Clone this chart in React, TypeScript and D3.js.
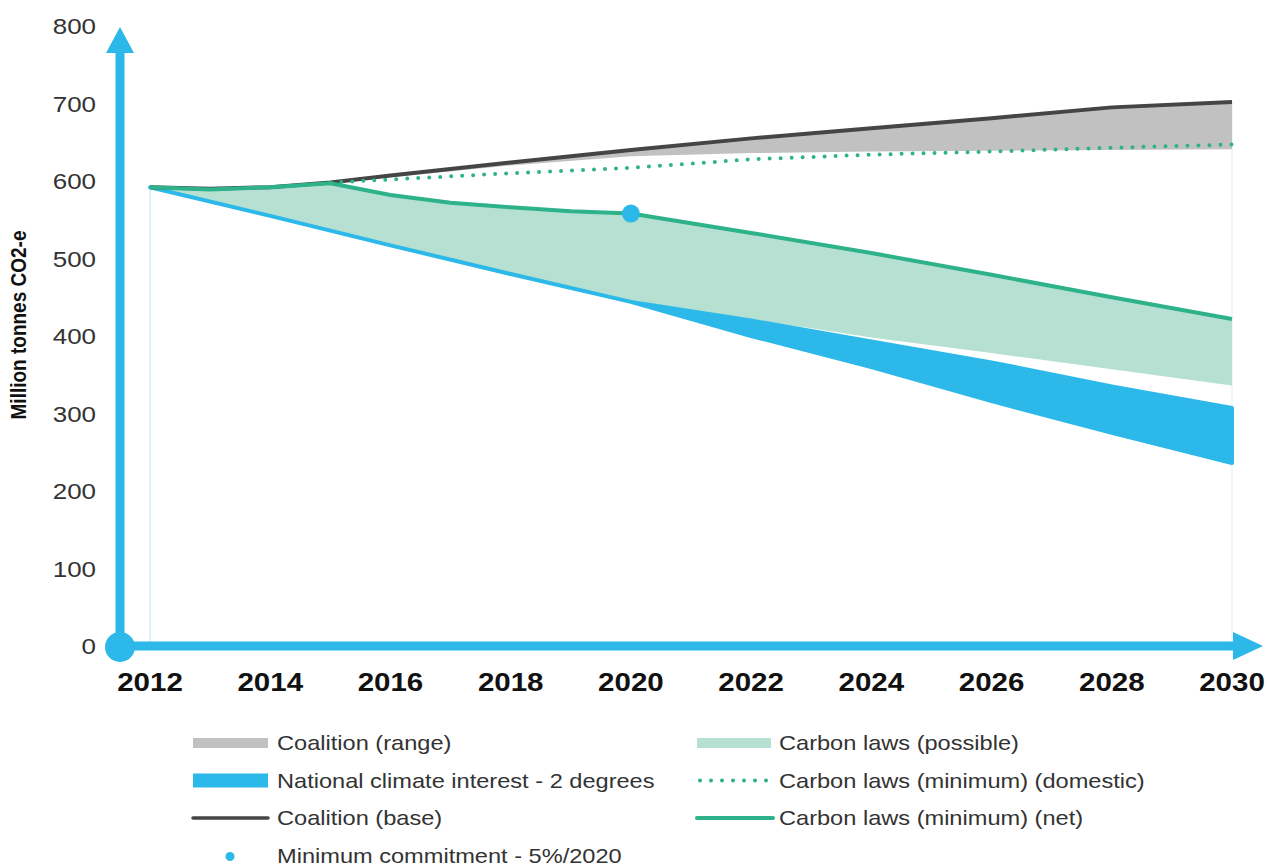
import React from "react";
import * as d3 from "d3";

const yTicks = [0, 100, 200, 300, 400, 500, 600, 700, 800];
const xTicks = [2012, 2014, 2016, 2018, 2020, 2022, 2024, 2026, 2028, 2030];

const coalitionYears = [2012, 2013, 2014, 2015, 2016, 2018, 2020, 2022, 2024, 2026, 2028, 2030];
const coalitionBase = [592, 590, 592, 598, 607, 624, 640, 655, 668, 681, 695, 702];
const coalitionRangeLow = [592, 590, 592, 598, 605, 620, 632, 636, 638, 639, 640, 641];

const domesticYears = [2015, 2016, 2018, 2020, 2022, 2024, 2026, 2028, 2030];
const domesticMin = [598, 602, 610, 617, 628, 634, 638, 643, 647];

const netYears = [2012, 2013, 2014, 2015, 2016, 2017, 2018, 2019, 2020, 2022, 2024, 2026, 2028, 2030];
const netMin = [592, 589, 592, 597, 582, 572, 566, 561, 558, 533, 507, 479, 450, 422];

const possibleLowYears = [2012, 2014, 2016, 2018, 2020, 2022, 2024, 2026, 2028, 2030];
const possibleLow = [592, 555, 517, 480, 444, 422, 398, 378, 357, 336];

const blueYears = [2012, 2014, 2016, 2018, 2020, 2022, 2024, 2026, 2028, 2030];
const blueUpper = [592, 555, 517, 480, 444, 420, 393, 366, 335, 307];
const blueLower = [592, 555, 517, 480, 444, 400, 360, 316, 275, 236];

const commitmentYear = 2020;
const commitmentValue = 558;

const legendLeft = [
  { label: "Coalition (range)", kind: "grayRect" },
  { label: "National climate interest - 2 degrees", kind: "blueRect" },
  { label: "Coalition (base)", kind: "darkLine" },
  { label: "Minimum commitment - 5%/2020", kind: "dot" },
];
const legendRight = [
  { label: "Carbon laws (possible)", kind: "greenRect" },
  { label: "Carbon laws (minimum) (domestic)", kind: "dotted" },
  { label: "Carbon laws (minimum) (net)", kind: "greenLine" },
];

const BLUE = "#2cb8e8";
const GREEN = "#2db28a";
const LIGHTGREEN = "#b6e0d1";
const GRAY = "#c1c1c1";
const DARK = "#454545";
const FONT = "'Liberation Sans', Arial, Helvetica, sans-serif";
const SX = 1.18;

function SText(props: { x: number; y: number; size: number; anchor?: string; bold?: boolean; fill?: string; children: any }) {
  return (
    <g transform={`translate(${props.x},${props.y}) scale(${SX},1)`}>
      <text x={0} y={0} textAnchor={(props.anchor as any) || "start"} fontSize={props.size}
        fontWeight={props.bold ? "bold" : "normal"} fill={props.fill || "#333"} fontFamily={FONT}>
        {props.children}
      </text>
    </g>
  );
}

export default function App() {
  const W = 1268, H = 867;
  const x = d3.scaleLinear().domain([2012, 2030]).range([150, 1232]);
  const y = d3.scaleLinear().domain([0, 800]).range([646, 26]);

  const zip = (xs: number[], a: number[], b?: number[]) =>
    xs.map((yr, i) => ({ x: yr, a: a[i], b: b ? b[i] : 0 }));

  const areaAB = d3.area<any>().x((d) => x(d.x)).y0((d) => y(d.b)).y1((d) => y(d.a));
  const lineA = d3.line<any>().x((d) => x(d.x)).y((d) => y(d.a));

  const interp = (xs: number[], vs: number[]) => (yr: number) => {
    for (let i = 0; i < xs.length - 1; i++) {
      if (yr >= xs[i] && yr <= xs[i + 1]) {
        const t = (yr - xs[i]) / (xs[i + 1] - xs[i]);
        return vs[i] + t * (vs[i + 1] - vs[i]);
      }
    }
    return vs[vs.length - 1];
  };
  const netInterp = interp(netYears, netMin);
  const lowInterp = interp(possibleLowYears, possibleLow);
  const possibleYears = Array.from(new Set([...netYears, ...possibleLowYears])).sort((a, b) => a - b);
  const possibleData = possibleYears.map((yr) => ({ x: yr, a: netInterp(yr), b: lowInterp(yr) }));

  const x0 = 120, yAxis = y(0);

  const legendRow = (item: any, i: number, sx: number, tx: number) => {
    const cy = 743 + i * 37.5;
    let sw: any = null;
    if (item.kind === "grayRect") sw = <rect x={sx} y={cy - 5} width={75} height={10} fill={GRAY} />;
    if (item.kind === "blueRect") sw = <rect x={sx} y={cy - 7} width={75} height={14} fill={BLUE} />;
    if (item.kind === "greenRect") sw = <rect x={sx} y={cy - 5} width={74} height={10} fill={LIGHTGREEN} />;
    if (item.kind === "darkLine") sw = <line x1={sx} x2={sx + 75} y1={cy} y2={cy} stroke={DARK} strokeWidth={3.5} strokeLinecap="round" />;
    if (item.kind === "greenLine") sw = <line x1={sx} x2={sx + 76} y1={cy} y2={cy} stroke={GREEN} strokeWidth={4} strokeLinecap="round" />;
    if (item.kind === "dotted") sw = <line x1={sx + 3} x2={sx + 74} y1={cy} y2={cy} stroke={GREEN} strokeWidth={4} strokeLinecap="round" strokeDasharray="0 11" />;
    if (item.kind === "dot") sw = <circle cx={sx + 37} cy={cy + 1} r={4.5} fill={BLUE} />;
    return (
      <g key={item.label}>
        {sw}
        <SText x={tx} y={cy + 7} size={20}>{item.label}</SText>
      </g>
    );
  };

  return (
    <svg width={W} height={H} style={{ position: "absolute", left: 0, top: 0, background: "#fff" }}>
      {/* faint vertical guides */}
      <line x1={x(2012)} x2={x(2012)} y1={y(592)} y2={yAxis} stroke="#d3eef8" strokeWidth={1.5} />
      <line x1={x(2030)} x2={x(2030)} y1={y(702)} y2={yAxis} stroke="#e8f4f8" strokeWidth={1.5} />

      <path d={areaAB(possibleData) || ""} fill={LIGHTGREEN} />
      <path d={areaAB(zip(coalitionYears, coalitionBase, coalitionRangeLow)) || ""} fill={GRAY} />
      <path d={areaAB(zip(blueYears, blueUpper, blueLower)) || ""} fill={BLUE} stroke={BLUE} strokeWidth={4} strokeLinejoin="round" />

      <path d={lineA(zip(coalitionYears, coalitionBase)) || ""} fill="none" stroke={DARK} strokeWidth={4} />
      <path d={lineA(zip(domesticYears, domesticMin)) || ""} fill="none" stroke={GREEN} strokeWidth={4} strokeLinecap="round" strokeDasharray="0 11" />
      <path d={lineA(zip(netYears, netMin)) || ""} fill="none" stroke={GREEN} strokeWidth={4} strokeLinejoin="round" />

      <circle cx={x(commitmentYear)} cy={y(commitmentValue)} r={9} fill={BLUE} />

      {/* axes */}
      <line x1={x0} x2={x0} y1={yAxis} y2={50} stroke={BLUE} strokeWidth={9} />
      <path d={`M${x0 - 14},53 L${x0},27 L${x0 + 14},53 Z`} fill={BLUE} />
      <line x1={x0} x2={1236} y1={yAxis} y2={yAxis} stroke={BLUE} strokeWidth={9} />
      <path d={`M1233,${yAxis - 14} L1263,${yAxis} L1233,${yAxis + 14} Z`} fill={BLUE} />
      <circle cx={x0} cy={yAxis + 1} r={15} fill={BLUE} />

      {yTicks.map((t) => (
        <SText key={t} x={96} y={y(t) + 8} size={22} anchor="end">{t}</SText>
      ))}
      {xTicks.map((t) => (
        <SText key={t} x={x(t)} y={691} size={25} anchor="middle" bold fill="#111">{t}</SText>
      ))}
      <g transform={`translate(26,325) scale(1.15,1) rotate(-90)`}>
        <text x={0} y={0} textAnchor="middle" fontSize={19} fontWeight="bold" fill="#111" fontFamily={FONT}>Million tonnes CO2-e</text>
      </g>

      {legendLeft.map((it, i) => legendRow(it, i, 193, 277))}
      {legendRight.map((it, i) => legendRow(it, i, 697, 779))}
    </svg>
  );
}
